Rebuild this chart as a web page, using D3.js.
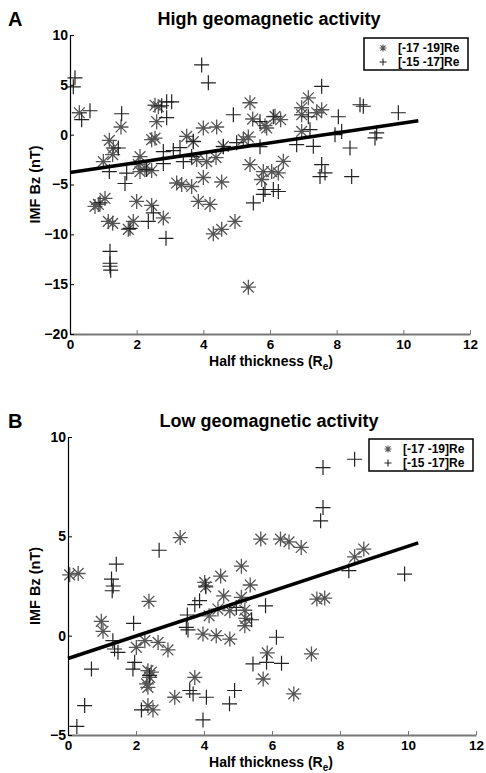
<!DOCTYPE html>
<html>
<head>
<meta charset="utf-8">
<script src="https://cdn.jsdelivr.net/npm/d3@7"></script>
<style>
  body { margin: 0; background: #fff; }
  svg { display: block; font-family: "Liberation Sans", Arial, sans-serif; font-weight: bold; }
</style>
</head>
<body>
<svg id="chart" width="486" height="773"></svg>
<script>
// ---- data ----
const xTicks = [0, 2, 4, 6, 8, 10, 12];
const yTicksHigh = [-20, -15, -10, -5, 0, 5, 10];
const yTicksLow = [-5, 0, 5, 10];
const legendLabels = ["[-17 -19]Re", "[-15 -17]Re"];
const panelLetters = ["A", "B"];
const panelTitles = ["High geomagnetic activity", "Low geomagnetic activity"];

// high activity, [-17 -19]Re (asterisks)
const highStar = [
  [0.28, 2.2], [1.53, 0.77], [1.18, -0.57], [1.3, -1.34], [1.28, -2.0], [1.0, -2.7],
  [2.1, -2.2], [2.05, -3.0], [2.25, -3.35], [2.45, -3.6], [2.1, -3.7], [2.45, -0.5],
  [2.55, -0.35], [2.65, 2.8], [2.55, 2.95], [2.6, 1.3], [3.5, -0.17], [3.7, -0.7],
  [4.0, 0.67], [4.4, 0.77], [3.8, -2.5], [4.1, -2.7], [4.38, -2.3], [4.6, -1.17],
  [3.2, -4.85], [3.35, -5.0], [3.65, -5.2], [4.0, -4.3], [4.55, -4.75], [0.75, -7.2],
  [0.85, -7.0], [1.05, -6.4], [1.15, -8.7], [1.28, -8.9], [1.75, -9.5], [1.9, -8.7],
  [2.0, -6.7], [2.45, -7.1], [2.8, -8.35], [3.85, -6.7], [4.2, -7.0], [4.3, -9.95],
  [4.55, -9.5], [4.95, -8.7], [5.35, -15.3], [5.4, 3.2], [5.48, 1.57], [5.2, -0.5],
  [5.35, -0.23], [5.4, -3.0], [5.75, -4.5], [5.8, -3.7], [6.05, -3.7], [6.25, -3.84],
  [6.4, -2.67], [5.85, 0.9], [5.9, 0.67], [6.15, 1.84], [6.32, 1.5], [6.95, 2.7],
  [6.95, 2.0], [7.15, 3.7], [7.4, 2.2], [7.55, 2.5], [6.95, 0.33]
];
// high activity, [-15 -17]Re (plus)
const highPlus = [
  [0.15, 5.7], [0.1, 4.8], [0.35, 1.5], [0.6, 2.4], [1.55, 2.1], [1.45, -1.34],
  [1.18, -3.7], [1.7, -3.85], [1.65, -4.9], [2.3, -3.5], [2.8, -2.9], [2.75, 2.9],
  [2.9, 3.3], [3.05, 3.3], [2.9, 1.7], [2.8, -1.7], [3.1, -1.6], [3.3, -1.3],
  [3.4, -2.7], [3.65, -2.2], [3.7, -0.67], [3.95, 7.0], [4.15, 5.2], [4.6, -1.2],
  [4.9, 2.0], [5.0, -0.8], [5.7, 1.3], [5.7, -1.2], [6.1, 1.8], [0.9, -6.85],
  [1.8, -9.4], [1.2, -11.7], [1.2, -12.9], [1.2, -13.2], [1.22, -13.6], [2.35, -8.7],
  [2.5, -7.85], [2.88, -10.4], [5.5, -6.85], [5.8, -6.0], [6.1, -5.5], [6.25, -5.7],
  [5.85, -5.5], [7.55, 4.85], [7.15, 1.8], [8.05, 1.8], [8.7, 3.0], [8.8, 2.85],
  [9.85, 2.2], [7.2, 0.5], [6.8, -1.0], [7.3, -1.17], [7.95, 0], [8.15, 0.33],
  [8.4, -1.34], [9.2, 0.17], [9.15, -0.33], [7.55, -3.0], [7.65, -3.84], [7.5, -4.2],
  [8.45, -4.2]
];
const highFit = [[0, -3.8], [10.45, 1.4]];

// low activity
const lowStar = [
  [0.05, 3.06], [0.3, 3.13], [3.3, 4.94], [2.38, 1.73], [0.98, 0.72], [1.03, 0.22],
  [4.02, 2.68], [4.05, 2.46], [4.49, 3.0], [5.1, 3.5], [5.36, 2.55], [5.67, 4.86],
  [6.25, 4.86], [6.5, 4.72], [6.86, 4.44], [4.58, 2.0], [5.1, 1.93], [5.2, 1.28],
  [4.76, 1.26], [4.41, 1.34], [4.15, 1.0], [5.23, 0.87], [5.2, 0.5], [2.01, -0.59],
  [2.26, -0.25], [2.65, -0.34], [2.94, -0.72], [2.35, -1.76], [2.45, -1.84], [2.4, -2.1],
  [2.31, -2.43], [2.35, -2.6], [2.35, -3.52], [2.5, -3.74], [3.14, -3.1], [3.73, -2.1],
  [3.97, 0.08], [4.36, 0], [4.76, -0.17], [5.86, -0.87], [5.74, -2.18], [6.64, -2.93],
  [7.16, -0.92], [8.7, 4.36], [8.43, 3.97], [7.32, 1.84], [7.55, 1.89]
];
const lowPlus = [
  [2.68, 4.3], [1.42, 3.6], [1.28, 2.85], [1.33, 2.5], [1.3, 2.26], [1.93, 0.62],
  [3.87, 1.76], [3.73, 1.56], [4.95, 1.42], [3.51, 1.04], [5.4, 0.8], [5.81, 1.5],
  [3.48, 0.42], [1.32, -0.25], [1.37, -0.67], [1.47, -0.84], [0.69, -1.68], [1.96, -1.34],
  [1.91, -1.68], [2.4, -2.0], [0.49, -3.52], [0.26, -4.57], [2.16, -3.74], [3.58, -2.76],
  [3.68, -2.93], [4.07, -3.1], [3.97, -4.24], [3.53, 0.29], [4.9, -2.76], [4.75, -3.43],
  [6.13, -0.08], [5.44, -1.42], [5.84, -1.34], [6.28, -1.39], [7.5, 6.45], [7.43, 5.78],
  [8.26, 3.27], [9.9, 3.1], [7.5, 8.46], [8.43, 8.88], [4.05, 2.5]
];
const lowFit = [[0, -1.15], [10.3, 4.67]];

const svg = d3.select("#chart");

// marker shapes
function starPath(r) {
  const d = r * 0.72;
  return `M${-r},0H${r}M0,${-r}V${r}M${-d},${-d}L${d},${d}M${-d},${d}L${d},${-d}`;
}
function plusPath(r) {
  return `M${-r},0H${r}M0,${-r}V${r}`;
}

function drawPanel(p) {
  const g = svg.append("g");
  const x = d3.scaleLinear().domain([0, 12]).range([p.left, p.right]);
  const y = d3.scaleLinear().domain(p.yDomain).range([p.bottom, p.top]);

  // points
  g.selectAll("path.star")
    .data(p.star)
    .join("path")
    .attr("class", "star")
    .attr("d", starPath(7.5))
    .attr("transform", (d) => "translate(" + x(d[0]) + "," + y(d[1]) + ")")
    .attr("stroke", "#555")
    .attr("stroke-width", 1.3)
    .attr("fill", "none");

  g.selectAll("path.plus")
    .data(p.plus)
    .join("path")
    .attr("class", "plus")
    .attr("d", plusPath(7.5))
    .attr("transform", (d) => "translate(" + x(d[0]) + "," + y(d[1]) + ")")
    .attr("stroke", "#222")
    .attr("stroke-width", 1.2)
    .attr("fill", "none");

  // regression line
  g.append("path")
    .datum(p.fit)
    .attr("d", d3.line().x((d) => x(d[0])).y((d) => y(d[1])))
    .attr("stroke", "#000")
    .attr("stroke-width", 3.5)
    .attr("fill", "none");

  // axes
  const xAxis = g.append("g")
    .attr("transform", "translate(0," + p.bottom + ")")
    .call(d3.axisBottom(x).tickValues(xTicks).tickSize(-4).tickSizeOuter(0).tickPadding(5));
  xAxis.select(".domain").attr("stroke", "#777").attr("stroke-width", 2);
  xAxis.selectAll(".tick line").attr("stroke", "#777");
  xAxis.selectAll("text").attr("font-size", 13.5).attr("font-weight", "bold").attr("fill", "#000")
    .attr("font-family", "Liberation Sans, Arial, sans-serif");

  const yAxis = g.append("g")
    .attr("transform", "translate(" + p.left + ",0)")
    .call(d3.axisLeft(y).tickValues(p.yTicks).tickSize(-4).tickSizeOuter(0).tickPadding(2));
  yAxis.select(".domain").attr("stroke", "#000").attr("stroke-width", 1.2);
  yAxis.selectAll("text").attr("font-size", 14).attr("font-weight", "bold").attr("fill", "#000")
    .attr("font-family", "Liberation Sans, Arial, sans-serif");

  // labels
  g.append("text")
    .attr("x", 8).attr("y", p.top - 9)
    .attr("font-size", 20)
    .text(p.letter);

  g.append("text")
    .attr("x", 269).attr("y", p.top - 10)
    .attr("text-anchor", "middle")
    .attr("font-size", 18)
    .text(p.title);

  g.append("text")
    .attr("transform", "translate(40," + (p.top + p.bottom) / 2 + ") rotate(-90)")
    .attr("text-anchor", "middle")
    .attr("font-size", 14.5)
    .text("IMF Bz (nT)");

  const xl = g.append("text")
    .attr("x", 271).attr("y", p.bottom + 32)
    .attr("text-anchor", "middle")
    .attr("font-size", 14);
  xl.append("tspan").text("Half thickness (R");
  xl.append("tspan").attr("font-size", 10).attr("dy", 4).text("e");
  xl.append("tspan").attr("dy", -4).text(")");

  // legend
  const lg = g.append("g").attr("transform", "translate(" + p.legend[0] + "," + p.legend[1] + ")");
  lg.append("rect")
    .attr("width", 104).attr("height", 32)
    .attr("fill", "#fff").attr("stroke", "#000").attr("stroke-width", 1.5);
  lg.selectAll("path.lm")
    .data(legendLabels)
    .join("path")
    .attr("class", "lm")
    .attr("d", (d, i) => (i === 0 ? starPath(3.5) : plusPath(3.5)))
    .attr("transform", (d, i) => "translate(19," + (10 + i * 14) + ")")
    .attr("stroke", (d, i) => (i === 0 ? "#555" : "#222"))
    .attr("stroke-width", 1.1)
    .attr("fill", "none");
  lg.selectAll("text")
    .data(legendLabels)
    .join("text")
    .attr("x", 34)
    .attr("y", (d, i) => 14 + i * 14)
    .attr("font-size", 12)
    .text((d) => d);
}

drawPanel({
  letter: panelLetters[0], title: panelTitles[0],
  left: 70, right: 470, top: 35, bottom: 334,
  yDomain: [-20, 10], yTicks: yTicksHigh,
  star: highStar, plus: highPlus, fit: highFit,
  legend: [364, 38]
});

drawPanel({
  letter: panelLetters[1], title: panelTitles[1],
  left: 68, right: 476, top: 437, bottom: 735,
  yDomain: [-5, 10], yTicks: yTicksLow,
  star: lowStar, plus: lowPlus, fit: lowFit,
  legend: [369, 439]
});
</script>
</body>
</html>
